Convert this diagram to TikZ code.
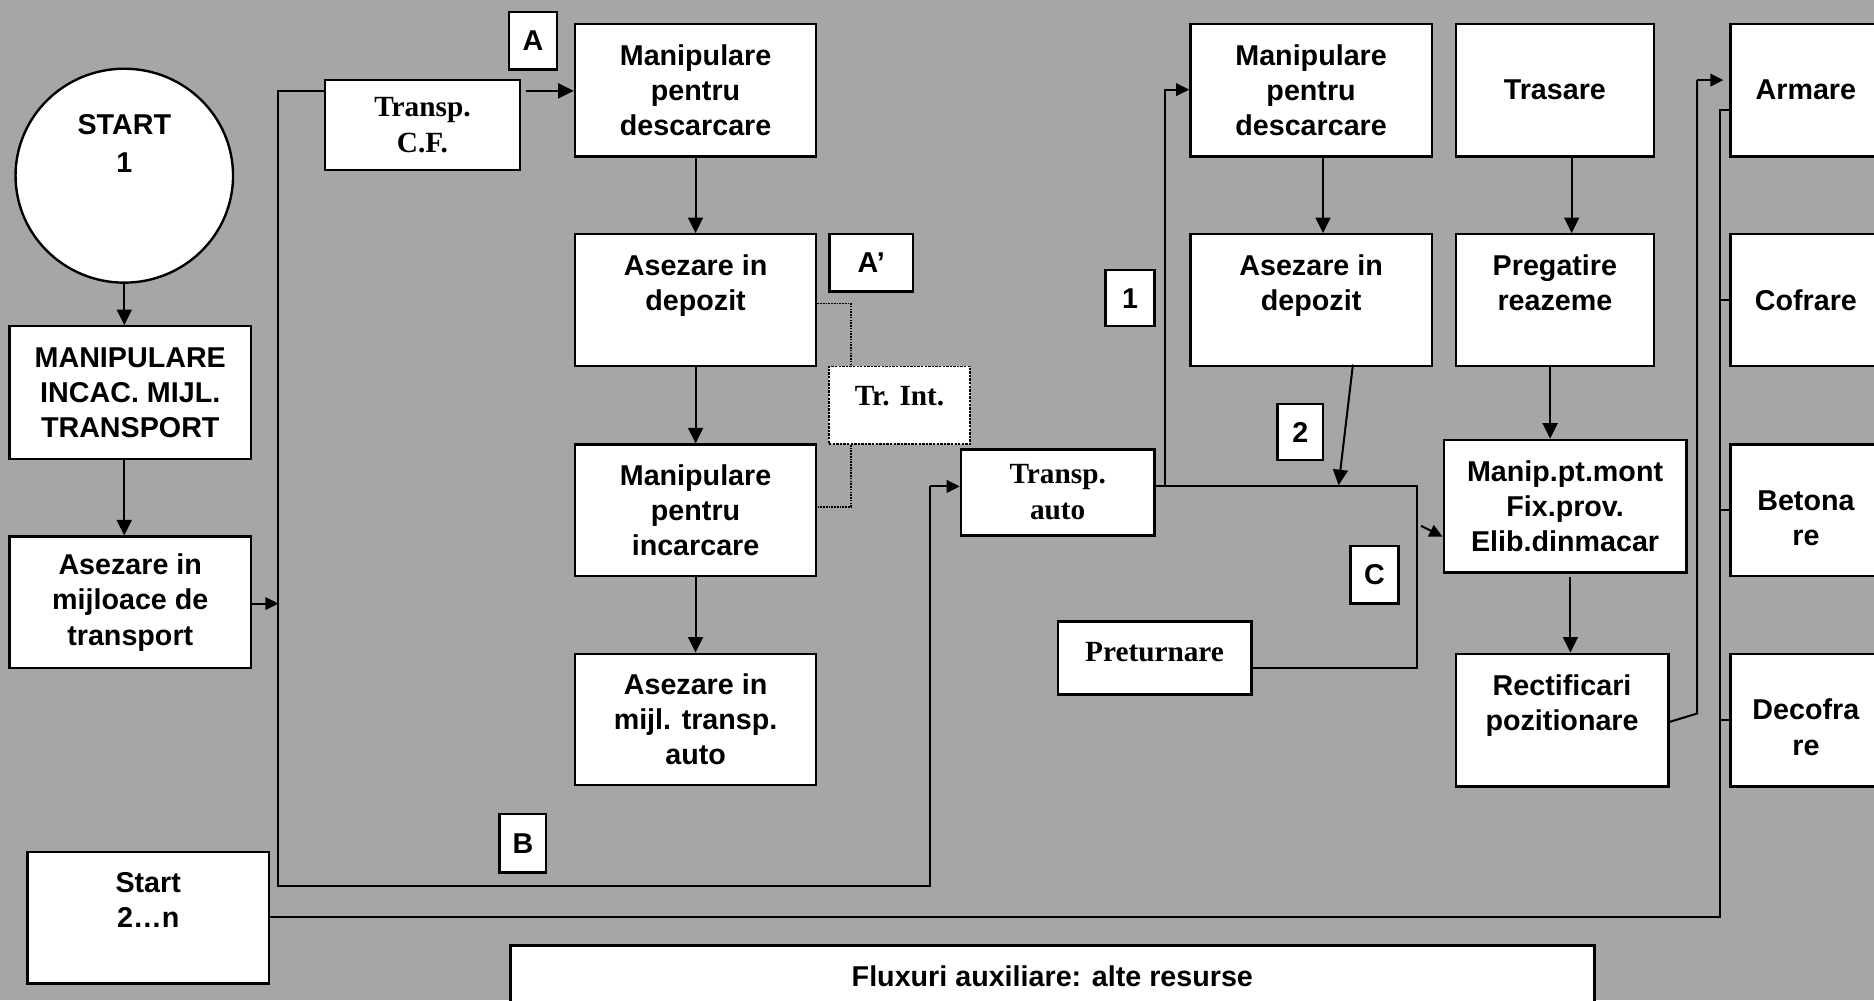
\documentclass[tikz,border=0pt]{standalone}
\usepackage{fontspec}
\setmainfont{Liberation Sans}
\newfontfamily\tnr{Liberation Serif}
\usetikzlibrary{arrows.meta,shapes.geometric}
\definecolor{bg}{RGB}{166,166,166}
\begin{document}
\begin{tikzpicture}[x=1pt,y=-1pt,
 box/.style={draw, fill=white, line width=2pt, anchor=north west, inner sep=0pt, align=center, font=\fontsize{24}{29.5}\selectfont\bfseries},
 sbox/.style={box, font=\tnr\fontsize{24.5}{30}\selectfont\bfseries},
 lbl/.style={box, font=\fontsize{24}{29}\selectfont\bfseries},
 ln/.style={line width=1.7pt},
 arr/.style={ln, -{Triangle[length=13pt,width=12.5pt]}},
 sarr/.style={ln, -{Triangle[length=11pt,width=10.5pt]}},
 dotl/.style={line width=1.3pt, densely dotted},
]
\useasboundingbox (0,0) rectangle (1568,837);
\clip (0,0) rectangle (1568,837);
\fill[bg] (0,0) rectangle (1568,837);

% left column
\node[box, ellipse, anchor=center, minimum width=182pt, minimum height=179pt] (start) at (104,147) {};
\node[font=\fontsize{24}{32}\selectfont\bfseries, align=center] (starttxt) at (104,120) {START\\1};
\node[box, minimum width=202pt, minimum height=111pt] (manip) at (7,272) {MANIPULARE\\INCAC. MIJL.\\TRANSPORT};
\node[box, minimum width=202pt, minimum height=110pt] (asmij) at (7,448) {Asezare in\\mijloace de\\transport};
\node[box, minimum width=202pt, minimum height=110pt] (start2) at (22,712) {Start\\2…n\\~};

% second column
\node[sbox, minimum width=163pt, minimum height=75pt] (tcf) at (271,66) {Transp.\\C.F.};
\node[lbl, minimum width=40pt, minimum height=48pt] (A) at (425,9) {A};
\node[lbl, minimum width=39pt, minimum height=49pt] (B) at (417,680) {B};
\node[box, minimum width=202pt, minimum height=111pt] (md1) at (480,19) {Manipulare\\pentru\\descarcare};
\node[box, minimum width=202pt, minimum height=110pt] (ad1) at (480,195) {Asezare in\\depozit\\~};
\node[box, minimum width=202pt, minimum height=110pt] (mi) at (480,371) {Manipulare\\pentru\\incarcare};
\node[box, minimum width=202pt, minimum height=110pt] (amt) at (480,546) {Asezare in\\mijl. transp.\\auto};
\node[lbl, minimum width=70pt, minimum height=48pt] (Ap) at (693,195) {A’};
\node[box, densely dotted, line width=1.3pt, minimum width=118pt, minimum height=65pt,
  label={[font=\tnr\fontsize{24.5}{30}\selectfont\bfseries, yshift=7.5pt]center:Tr. Int.}] (trint) at (693,306) {};

% middle
\node[sbox, minimum width=162pt, minimum height=72pt] (ta) at (803,375) {Transp.\\auto};
\node[lbl, minimum width=41pt, minimum height=47pt] (one) at (924,225) {1};
\node[box, minimum width=202pt, minimum height=111pt] (md2) at (995,19) {Manipulare\\pentru\\descarcare};
\node[box, minimum width=202pt, minimum height=110pt] (ad2) at (995,195) {Asezare in\\depozit\\~};
\node[lbl, minimum width=38pt, minimum height=47pt] (two) at (1068,337) {2};
\node[lbl, minimum width=40pt, minimum height=48pt] (C) at (1129,456) {C};
\node[box, minimum width=162pt, minimum height=61pt,
  label={[font=\tnr\fontsize{24.5}{30}\selectfont\bfseries, yshift=5pt]center:Preturnare}] (pret) at (884,519) {};

% right
\node[box, minimum width=166pt, minimum height=111pt] (tras) at (1217,19) {Trasare};
\node[box, minimum width=166pt, minimum height=110pt] (preg) at (1217,195) {Pregatire\\reazeme\\~};
\node[box, minimum width=203pt, minimum height=111pt] (mpm) at (1207,367) {Manip.pt.mont\\Fix.prov.\\Elib.dinmacar};
\node[box, minimum width=178pt, minimum height=111pt] (rect) at (1217,546) {Rectificari\\pozitionare\\~};
\node[box, minimum width=126pt, minimum height=111pt] (arm) at (1447,19) {Armare};
\node[box, minimum width=126pt, minimum height=110pt] (cof) at (1447,195) {Cofrare};
\node[box, minimum width=126pt, minimum height=110pt] (bet) at (1447,371) {~\\Betona\\re};
\node[box, minimum width=126pt, minimum height=111pt] (dec) at (1447,546) {~\\Decofra\\re};
\node[box, minimum width=907pt, minimum height=52pt] (flux) at (426,790) {Fluxuri auxiliare: alte resurse};

% coordinates
\coordinate (j1) at (233,76);
\coordinate (j2) at (233,741);
\coordinate (j3) at (778,741);
\coordinate (j4) at (778,407);
\coordinate (k1) at (975,407);
\coordinate (k2) at (1186,407);
\coordinate (k3) at (1186,559);
\coordinate (k4) at (1189,440);
\coordinate (k5) at (1207,449);
\coordinate (s1) at (1132,305);
\coordinate (s2) at (1120,406);
\coordinate (d1) at (712,254);
\coordinate (d2) at (712,424);
\coordinate (r1) at (1420,597);
\coordinate (r2) at (1420,67);
\coordinate (r3) at (1442,67);
\coordinate (v1) at (1439,767);
\coordinate (v2) at (1439,92);

% connectors left
\draw[arr] (start.south) -- (start.south |- manip.north);
\draw[arr] (start.south |- manip.south) -- (start.south |- asmij.north);
\draw[sarr] (asmij.east |- 0,505) -- (233,505);
\draw[ln] (tcf.west |- j1) -- (j1) -- (j2) -- (j3) -- (j4);
\draw[sarr] (j4) -- (ta.west |- j4);
\draw[arr] ([xshift=4pt]tcf.east |- j1) -- (md1.west |- j1);
\draw[arr] (md1.south) -- (ad1.north);
\draw[arr] (ad1.south) -- (mi.north);
\draw[arr] (mi.south) -- (amt.north);
\draw[dotl] (ad1.east |- d1) -- (d1) -- (d1 |- trint.north);
\draw[dotl] (d1 |- trint.south) -- (d2) -- (mi.east |- d2);

% middle connectors
\draw[ln] (ta.east |- k1) -- (k1);
\draw[sarr] (k1) |- (md2.west |- 0,75);
\draw[ln] (k1) -- (k2) -- (k3) -- (pret.east |- k3);
\draw[sarr] (k4) -- (k5);
\draw[arr] ([xshift=10pt]md2.south) -- ([xshift=10pt]ad2.north);
\draw[arr] (s1) -- (s2);

% right connectors
\draw[arr] ([xshift=14pt]tras.south) -- ([xshift=14pt]preg.north);
\draw[arr] ([xshift=-4pt]preg.south) -- ([xshift=-4pt]preg.south |- mpm.north);
\draw[arr] (1314,483) -- (rect.north -| 1314,0);
\draw[ln] (rect.east |- 0,604) -- (r1) -- (r2);
\draw[sarr] (r2) -- (r3);
\draw[ln] (start2.east |- v1) -- (v1) -- (v2) -- (arm.west |- v2);
\draw[ln] (cof.west) -- (cof.west -| v1);
\draw[ln] (bet.west) -- (bet.west -| v1);
\draw[ln] (dec.west) -- (dec.west -| v1);
\end{tikzpicture}
\end{document}
